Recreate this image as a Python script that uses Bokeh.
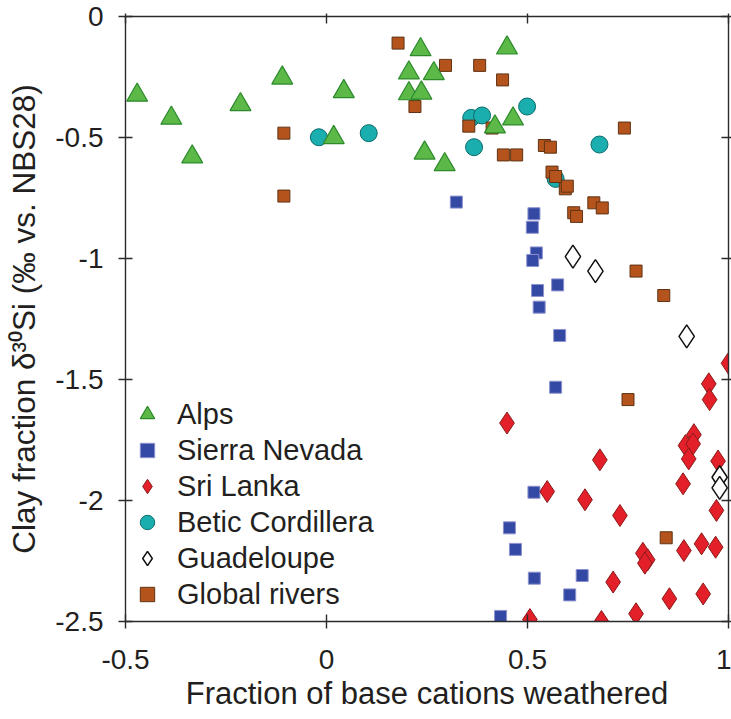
from bokeh.plotting import figure
from bokeh.models import (Range1d, LinearAxis, FixedTicker, CustomJSTickFormatter,
                          Legend, LegendItem)
from bokeh.embed import file_html
from bokeh.resources import INLINE

# ---------------- data ----------------
alps_x = [-0.471, -0.386, -0.334, -0.214, -0.110, 0.018, 0.043, 0.205, 0.205,
          0.234, 0.267, 0.236, 0.244, 0.294, 0.419, 0.449, 0.464]
alps_y = [-0.325, -0.42, -0.58, -0.364, -0.254, -0.50, -0.31, -0.233, -0.319,
          -0.137, -0.236, -0.316, -0.564, -0.612, -0.456, -0.13, -0.423]

sierra_x = [0.323, 0.516, 0.512, 0.522, 0.513, 0.575, 0.525, 0.529, 0.580, 0.570,
            0.516, 0.455, 0.470, 0.517, 0.636, 0.605, 0.433]
sierra_y = [-0.767, -0.815, -0.871, -0.977, -1.008, -1.109, -1.132, -1.201, -1.318,
            -1.532, -1.966, -2.113, -2.202, -2.321, -2.310, -2.390, -2.479]

srilanka_x = [0.449, 1.000, 0.951, 0.953, 0.914, 0.893, 0.912, 0.901, 0.974, 0.680,
              0.887, 0.549, 0.643, 0.730, 0.970, 0.889, 0.933, 0.968, 0.787, 0.799,
              0.792, 0.713, 0.937, 0.853, 0.770, 0.506, 0.684]
srilanka_y = [-1.680, -1.433, -1.518, -1.583, -1.728, -1.773, -1.766, -1.828, -1.837,
              -1.832, -1.931, -1.963, -1.997, -2.062, -2.041, -2.207, -2.179, -2.193,
              -2.218, -2.245, -2.259, -2.337, -2.386, -2.406, -2.468, -2.492, -2.500]

betic_x = [-0.019, 0.105, 0.360, 0.387, 0.367, 0.499, 0.679, 0.570]
betic_y = [-0.499, -0.482, -0.419, -0.409, -0.540, -0.372, -0.529, -0.671]

guad_x = [0.613, 0.669, 0.896, 0.978, 0.978]
guad_y = [-0.992, -1.052, -1.322, -1.904, -1.948]

rivers_x = [-0.106, -0.106, 0.178, 0.220, 0.296, 0.381, 0.438, 0.354, 0.412, 0.440,
            0.473, 0.542, 0.557, 0.561, 0.570, 0.594, 0.599, 0.665, 0.686, 0.615,
            0.622, 0.741, 0.770, 0.839, 0.750, 0.845]
rivers_y = [-0.482, -0.742, -0.110, -0.372, -0.202, -0.202, -0.262, -0.453, -0.461,
            -0.572, -0.572, -0.533, -0.540, -0.643, -0.661, -0.712, -0.701, -0.770,
            -0.791, -0.811, -0.826, -0.461, -1.052, -1.153, -1.583, -2.154]

x_ticks = [-0.5, 0, 0.5, 1]
y_ticks = [0, -0.5, -1, -1.5, -2, -2.5]

x_title = "Fraction of base cations weathered"
y_title = "Clay fraction \u03b4\u00b3\u2070Si (\u2030 vs. NBS28)"

FONT = "Liberation Sans"
TXT = "#231f20"
AX = "#2b2b2b"

p = figure(width=731, height=719, output_backend="svg", toolbar_location=None,
           x_range=Range1d(-0.5, 1), y_range=Range1d(-2.5, 0),
           min_border_left=125, min_border_right=3, min_border_top=16,
           min_border_bottom=98, background_fill_color="white",
           border_fill_color="white", outline_line_color=None)
p.grid.visible = False

fmt = CustomJSTickFormatter(code="return tick.toString()")

def style_axis(ax, ticks, show_labels):
    ax.ticker = FixedTicker(ticks=ticks)
    ax.formatter = fmt
    ax.axis_line_color = AX
    ax.axis_line_width = 1.4
    ax.major_tick_line_color = AX
    ax.major_tick_line_width = 1.4
    ax.major_tick_in = 7
    ax.major_tick_out = 7
    ax.minor_tick_line_color = None
    if show_labels:
        ax.major_label_text_font = FONT
        ax.major_label_text_font_size = "28px"
        ax.major_label_text_color = TXT
        ax.axis_label_text_font = FONT
        ax.axis_label_text_font_style = "normal"
        ax.axis_label_text_color = TXT
    else:
        ax.major_label_text_font_size = "1px"
        ax.major_label_text_color = None
        ax.major_label_standoff = 0
        ax.major_tick_out = 3

style_axis(p.xaxis[0], x_ticks, True)
style_axis(p.yaxis[0], y_ticks, True)

xax = p.xaxis[0]
xax.axis_label = x_title
xax.axis_label_text_font_size = "31px"
xax.major_label_standoff = 21
xax.axis_label_standoff = 4

yax = p.yaxis[0]
yax.axis_label = y_title
yax.axis_label_text_font_size = "31.5px"
yax.major_label_standoff = 15
yax.axis_label_standoff = 10

top_ax = LinearAxis()
right_ax = LinearAxis()
style_axis(top_ax, x_ticks, False)
style_axis(right_ax, y_ticks, False)
p.add_layout(top_ax, "above")
p.add_layout(right_ax, "right")

r_betic = p.scatter(betic_x, betic_y, marker="circle", size=17,
                    fill_color="#1aaeae", line_color="#0b6b6b", line_width=1)
r_rivers = p.scatter(rivers_x, rivers_y, marker="square", size=12,
                     fill_color="#b4541c", line_color="#5f3314", line_width=1)
r_sierra = p.scatter(sierra_x, sierra_y, marker="square", size=12,
                     fill_color="#3349a4", line_color="#8d92cf", line_width=1)
r_sri = p.scatter(srilanka_x, srilanka_y, marker="diamond", size=22,
                  fill_color="#e3202a", line_color="#8b1a1a", line_width=1)
r_guad = p.scatter(guad_x, guad_y, marker="diamond", size=23,
                   fill_color="white", line_color="#111111", line_width=1.5)
r_alps = p.scatter(alps_x, alps_y, marker="triangle", size=21,
                   fill_color="#5cb947", line_color="#2c8a2c", line_width=1.2)

legend = Legend(items=[
    LegendItem(label="Alps", renderers=[r_alps]),
    LegendItem(label="Sierra Nevada", renderers=[r_sierra]),
    LegendItem(label="Sri Lanka", renderers=[r_sri]),
    LegendItem(label="Betic Cordillera", renderers=[r_betic]),
    LegendItem(label="Guadeloupe", renderers=[r_guad]),
    LegendItem(label="Global rivers", renderers=[r_rivers]),
], location=(4, 9), orientation="vertical")
legend.background_fill_alpha = 0
legend.border_line_color = None
legend.padding = 0
legend.margin = 0
legend.spacing = 0
legend.glyph_width = 36
legend.glyph_height = 36
legend.label_height = 36
legend.label_standoff = 12
legend.label_text_font = FONT
legend.label_text_font_size = "29px"
legend.label_text_color = TXT
p.add_layout(legend, "center")

open("out.html", "w").write(file_html(p, INLINE))
